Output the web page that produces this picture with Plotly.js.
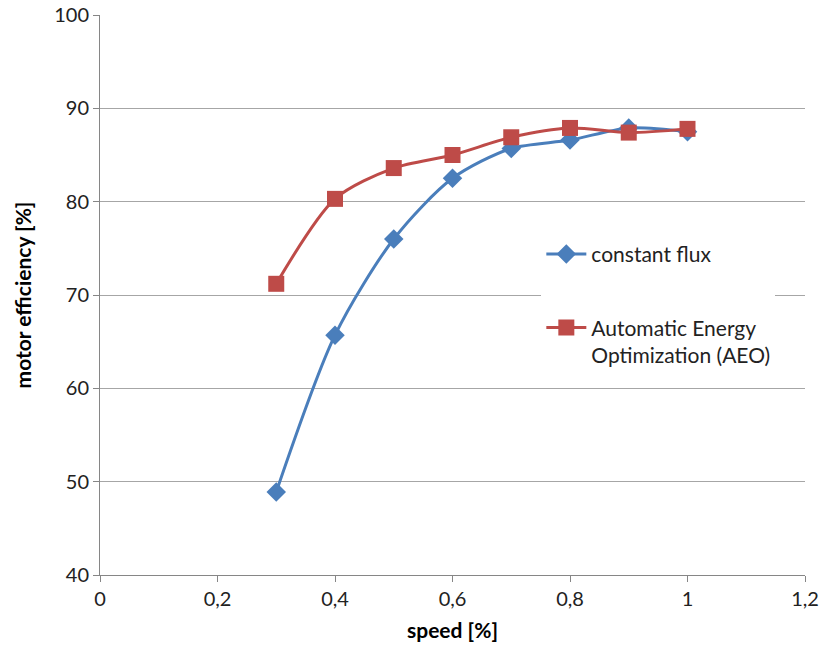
<!DOCTYPE html>
<html>
<head>
<meta charset="utf-8">
<script src="https://cdn.plot.ly/plotly-3.0.1.min.js"></script>
<style>html,body{margin:0;padding:0;background:#fff;}#chart{width:832px;height:651px;}</style>
</head>
<body>
<div id="chart"></div>
<script>
const speed = [0.3, 0.4, 0.5, 0.6, 0.7, 0.8, 0.9, 1.0];
const constantFlux = [48.9, 65.7, 76.0, 82.5, 85.7, 86.6, 87.9, 87.5];
const aeo = [71.2, 80.3, 83.6, 85.0, 86.9, 87.9, 87.4, 87.8];
const seriesNames = ["constant flux", "Automatic Energy<br>Optimization (AEO)"];

const fontFam = "Lato, 'Open Sans', 'Liberation Sans', sans-serif";

const traces = [
  {
    x: speed, y: constantFlux, name: seriesNames[0], type: "scatter", mode: "lines+markers",
    legendgroup: "a",
    line: {color: "#4a7ebb", width: 3, shape: "spline", smoothing: 0.8},
    marker: {symbol: "diamond", size: 15, color: "#4a7ebb"}
  },
  {
    x: speed, y: aeo, name: seriesNames[1], type: "scatter", mode: "lines+markers",
    legendgroup: "b",
    line: {color: "#be4b48", width: 3, shape: "spline", smoothing: 0.8},
    marker: {symbol: "square", size: 16, color: "#be4b48"}
  }
];

const layout = {
  width: 832, height: 651,
  margin: {l: 100, r: 27, t: 15, b: 76},
  paper_bgcolor: "#fff", plot_bgcolor: "#fff",
  separators: ",.",
  font: {family: fontFam, size: 20, color: "#222"},
  showlegend: true,
  legend: {
    x: 0.626, y: 0.609, xanchor: "left", yanchor: "top",
    bgcolor: "#ffffff", borderwidth: 0,
    font: {family: fontFam, size: 21, color: "#222"},
    traceorder: "grouped", tracegroupgap: 43, valign: "top",
    itemwidth: 40
  },
  xaxis: {
    range: [0, 1.2], dtick: 0.2, tick0: 0,
    showgrid: false, zeroline: false,
    showline: true, linecolor: "#868686", linewidth: 1,
    ticks: "outside", ticklen: 6, tickcolor: "#868686",
    tickfont: {family: fontFam, size: 20, color: "#222"},
    title: {text: "<b>speed [%]</b>", font: {family: fontFam, size: 21, color: "#000"}, standoff: 14}
  },
  yaxis: {
    range: [40, 100], dtick: 10, tick0: 40,
    showgrid: true, gridcolor: "#a6a6a6", gridwidth: 1, zeroline: false,
    showline: true, linecolor: "#868686", linewidth: 1,
    ticks: "outside", ticklen: 6, tickcolor: "#868686",
    tickfont: {family: fontFam, size: 20, color: "#222"},
    title: {text: "<b>motor efficiency [%]</b>", font: {family: fontFam, size: 21, color: "#000"}, standoff: 16}
  }
};

Plotly.newPlot("chart", traces, layout, {displayModeBar: false, staticPlot: true});
</script>
</body>
</html>
